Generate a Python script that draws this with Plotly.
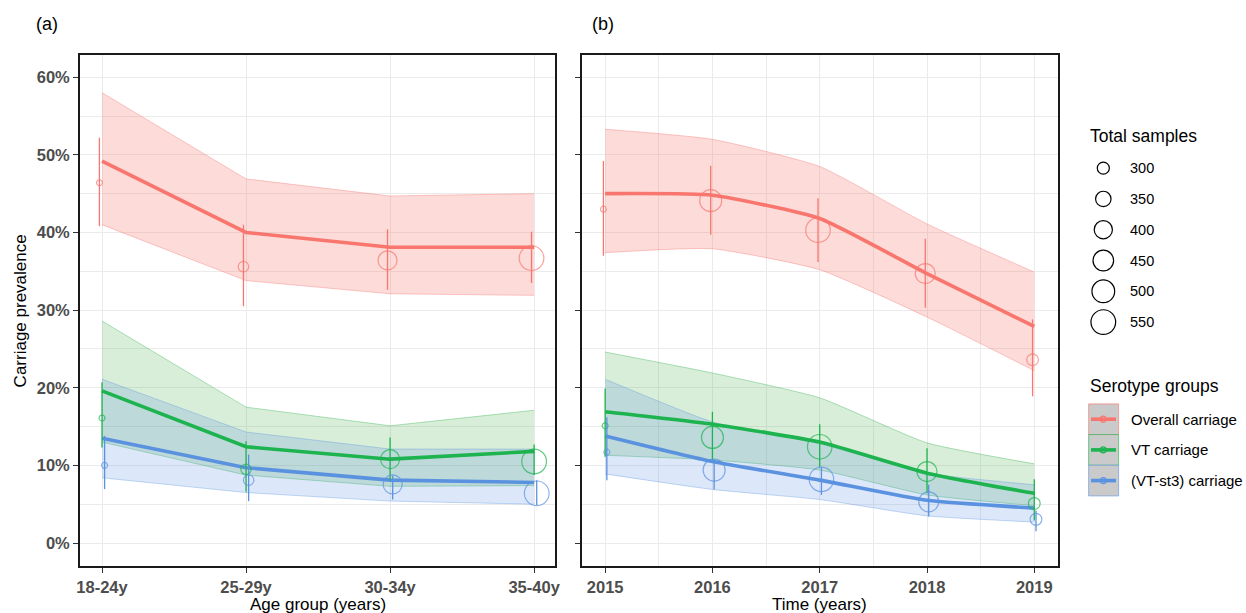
import math
import plotly.graph_objects as go

# ---------------- data ----------------
age_groups = ["18-24y", "25-29y", "30-34y", "35-40y"]
years = [2015, 2016, 2017, 2018, 2019]
groups = ["Overall carriage", "VT carriage", "(VT-st3) carriage"]

# panel (a): model estimates (line + ribbon) by age group, %
age_model = [[49.2, 40.0, 38.1, 38.1], [19.6, 12.4, 10.8, 11.8], [13.5, 9.7, 8.1, 7.8]]
age_model_lo = [[41.0, 33.8, 32.1, 31.9], [13.0, 8.75, 7.3, 7.4], [8.4, 6.5, 5.4, 5.0]]
age_model_hi = [[58.0, 46.9, 44.7, 45.0], [28.6, 17.5, 15.1, 17.1], [21.1, 14.3, 12.1, 12.1]]
# panel (a): observed prevalence with 95% CI
age_obs = [[46.4, 35.6, 36.4, 36.7], [16.1, 9.5, 10.8, 10.5], [10.0, 8.1, 7.55, 6.4]]
age_obs_lo = [[40.8, 30.5, 32.6, 33.5], [12.3, 6.6, 8.1, 8.75], [6.95, 5.4, 5.6, 4.9]]
age_obs_hi = [[52.2, 41.0, 40.4, 40.1], [20.7, 13.1, 13.6, 12.7], [13.8, 11.4, 8.7, 8.1]]
age_samples = [241, 281, 416, 550]

# panel (b): by year
yr_model = [[45.0, 44.8, 41.8, 34.7, 27.9], [16.9, 15.3, 13.0, 9.0, 6.4], [13.8, 10.5, 8.1, 5.5, 4.5]]
yr_model_lo = [[37.4, 37.9, 35.2, 29.1, 22.2], [11.3, 10.7, 9.4, 6.2, 4.8], [8.9, 6.9, 5.6, 3.5, 2.7]]
yr_model_hi = [[53.3, 52.0, 48.5, 41.1, 34.9], [24.6, 21.9, 18.7, 12.9, 10.2], [21.1, 15.6, 12.8, 9.0, 7.5]]
yr_obs = [[43.0, 44.1, 40.3, 34.7, 23.6], [15.1, 13.6, 12.4, 9.2, 5.1], [11.7, 9.4, 8.2, 5.3, 3.05]]
yr_obs_lo = [[37.0, 39.7, 36.2, 30.3, 18.9], [11.1, 10.7, 9.8, 6.4, 2.9], [8.1, 6.9, 6.2, 3.4, 1.5]]
yr_obs_hi = [[49.2, 48.6, 44.4, 39.2, 28.8], [19.9, 16.9, 15.3, 12.2, 8.2], [16.2, 10.7, 9.8, 7.5, 4.2]]
yr_samples = [241, 482, 545, 437, 296]

legend_samples = [300, 350, 400, 450, 500, 550]
y_ticks = [0, 10, 20, 30, 40, 50, 60]
y_ticktext = ["0%", "10%", "20%", "30%", "40%", "50%", "60%"]

# ---------------- style ----------------
colors = ["#F8766D", "#1DB34F", "#5A92E0"]
fills = ["rgba(244,110,105,0.25)", "rgba(70,175,70,0.21)", "rgba(90,140,225,0.21)"]
edges = ["rgba(244,110,105,0.45)", "rgba(40,175,70,0.45)", "rgba(90,146,224,0.45)"]
FONT = "Liberation Sans, Arial, Helvetica, sans-serif"
GRID = "#EBEBEB"
W, H = 1246, 613
L, R, T, B = 80, 188.3, 54.5, 47.3
PW, PH = W - L - R, H - T - B


def rgba(hx, a):
    hx = hx.lstrip("#")
    r, g, b = int(hx[0:2], 16), int(hx[2:4], 16), int(hx[4:6], 16)
    return f"rgba({r},{g},{b},{a})"


def size_px(n):
    return math.sqrt(max(1.86 * (n - 222), 25))


def px(xp):
    return (xp - L) / PW


def py(yp):
    return (H - B - yp) / PH


fig = go.Figure()


def add_panel(xvals, xa, ya, model, mlo, mhi, obs, olo, ohi, samples, dodge, shape):
    # ribbons
    for f, e, lo, hi in zip(fills, edges, mlo, mhi):
        fig.add_trace(go.Scatter(x=xvals, y=lo, mode="lines", xaxis=xa, yaxis=ya,
                                 line=dict(color=e, width=0.8, shape=shape, smoothing=0.5),
                                 showlegend=False, hoverinfo="skip"))
        fig.add_trace(go.Scatter(x=xvals, y=hi, mode="lines", xaxis=xa, yaxis=ya,
                                 fill="tonexty", fillcolor=f,
                                 line=dict(color=e, width=0.8, shape=shape, smoothing=0.5),
                                 showlegend=False, hoverinfo="skip"))
    # model lines
    for c, m, g in zip(colors, model, groups):
        fig.add_trace(go.Scatter(x=xvals, y=m, mode="lines", xaxis=xa, yaxis=ya, name=g,
                                 line=dict(color=c, width=3.6, shape=shape, smoothing=0.5),
                                 showlegend=False))
    # observed points with CI
    for k, (c, o, lo, hi, g) in enumerate(zip(colors, obs, olo, ohi, groups)):
        xs = [x + (k - 1) * dodge for x in xvals]
        fig.add_trace(go.Scatter(
            x=xs, y=o, mode="markers", xaxis=xa, yaxis=ya, name=g, showlegend=False,
            marker=dict(symbol="circle-open", size=[size_px(n) for n in samples],
                        color=c, line=dict(width=1.2, color=c)),
            error_y=dict(type="data", symmetric=False,
                         array=[h - v for h, v in zip(hi, o)],
                         arrayminus=[v - l for v, l in zip(o, lo)],
                         width=0, thickness=1.3, color=c)))


add_panel(list(range(len(age_groups))), "x", "y", age_model, age_model_lo, age_model_hi,
          age_obs, age_obs_lo, age_obs_hi, age_samples, 0.018, "linear")
add_panel(years, "x2", "y2", yr_model, yr_model_lo, yr_model_hi,
          yr_obs, yr_obs_lo, yr_obs_hi, yr_samples, 0.016, "spline")

tickfont = dict(family=FONT, size=16.5, color="#4D4D4D", weight="bold")
axis_common = dict(showgrid=True, gridcolor=GRID, gridwidth=1.3, zeroline=False,
                   showline=True, linecolor="#1A1A1A", linewidth=1.8, mirror=True,
                   ticks="outside", ticklen=5, tickwidth=1.3, tickcolor="#333333",
                   tickfont=tickfont)

fig.update_layout(
    width=W, height=H,
    margin=dict(l=L, r=R, t=T, b=B),
    paper_bgcolor="white", plot_bgcolor="white",
    showlegend=False,
    font=dict(family=FONT, color="black"),
    xaxis=dict(domain=[0, px(555.3)], range=[-0.1528, 3.148],
               tickvals=list(range(len(age_groups))), ticktext=age_groups, **axis_common),
    yaxis=dict(domain=[0, 1], range=[-2.96, 62.86], tickvals=y_ticks, ticktext=y_ticktext,
               minor=dict(dtick=5, tick0=0, showgrid=True, gridcolor=GRID, gridwidth=0.7, ticks=""),
               **axis_common),
    xaxis2=dict(domain=[px(581.7), 1], range=[2014.783, 2019.221], tickvals=years,
                ticktext=[str(y) for y in years],
                minor=dict(dtick=0.5, tick0=2015, showgrid=True, gridcolor=GRID, gridwidth=0.7, ticks=""),
                anchor="y2", **axis_common),
    yaxis2=dict(domain=[0, 1], range=[-2.96, 62.86], tickvals=y_ticks, showticklabels=False,
                minor=dict(dtick=5, tick0=0, showgrid=True, gridcolor=GRID, gridwidth=0.7, ticks=""),
                anchor="x2", **axis_common),
)

ann = []
shapes = []
title_font = dict(family=FONT, size=17, color="black")


def text(t, x, y, font, xanchor="center", angle=0):
    ann.append(dict(text=t, x=px(x), y=py(y), xref="paper", yref="paper",
                    xanchor=xanchor, yanchor="middle", textangle=angle,
                    showarrow=False, font=font))


text("Carriage prevalence", 20, 310, title_font, angle=-90)
text("Age group (years)", 317.7, 604, title_font)
text("Time (years)", 819.7, 604, title_font)
text("(a)", 47.5, 23, dict(family=FONT, size=18, color="black"))
text("(b)", 602.5, 23, dict(family=FONT, size=18, color="black"))

# legend: Total samples
text("Total samples", 1088, 136, dict(family=FONT, size=17.5, color="black"), xanchor="left")
for i, n in enumerate(legend_samples):
    cy = 167.7 + i * 30.8
    r = size_px(n) / 2
    shapes.append(dict(type="circle", xref="paper", yref="paper", xsizemode="pixel", ysizemode="pixel",
                       xanchor=px(1103), yanchor=py(cy), x0=-r, x1=r, y0=-r, y1=r,
                       line=dict(color="black", width=1.2), fillcolor="rgba(0,0,0,0)"))
    text(str(n), 1128, cy, dict(family=FONT, size=14.5, color="black"), xanchor="left")

# legend: Serotype groups
text("Serotype groups", 1088, 386, dict(family=FONT, size=17.5, color="black"), xanchor="left")
for i, (c, g) in enumerate(zip(colors, groups)):
    top = 403.5 + i * 30.7
    bot = top + 30.7
    cy = (top + bot) / 2
    shapes.append(dict(type="rect", xref="paper", yref="paper", x0=px(1088.3), x1=px(1118.3),
                       y0=py(bot), y1=py(top), fillcolor="#CACACA", line=dict(color=rgba(c, 0.6), width=1)))
    shapes.append(dict(type="line", xref="paper", yref="paper", x0=px(1090.7), x1=px(1115.7),
                       y0=py(cy), y1=py(cy), line=dict(color=c, width=3.6)))
    shapes.append(dict(type="circle", xref="paper", yref="paper", xsizemode="pixel", ysizemode="pixel",
                       xanchor=px(1103), yanchor=py(cy), x0=-3, x1=3, y0=-3, y1=3,
                       line=dict(color=c, width=1.2), fillcolor="rgba(0,0,0,0)"))
    text(g, 1128.3, cy, dict(family=FONT, size=15, color="black"), xanchor="left")

fig.update_layout(annotations=ann, shapes=shapes)
fig.write_html("out.html", config={"displayModeBar": False},
               post_script="document.body.style.margin='0';document.body.style.overflow='hidden';")
